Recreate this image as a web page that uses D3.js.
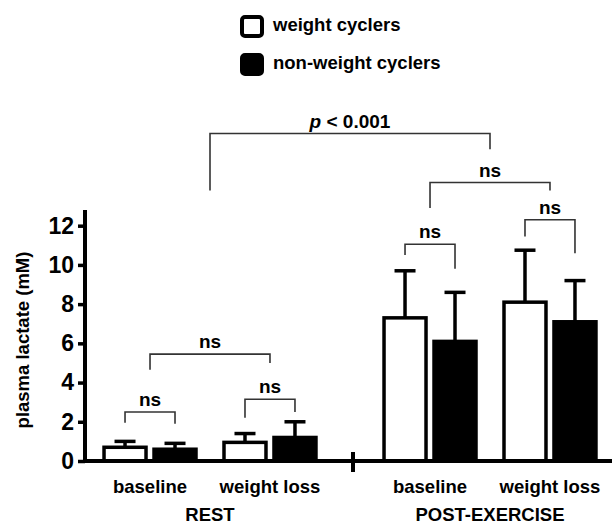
<!DOCTYPE html>
<html>
<head>
<meta charset="utf-8">
<script src="https://cdn.jsdelivr.net/npm/d3@7"></script>
<style>
  body { margin: 0; background: #fff; }
  text { font-family: "Liberation Sans", Arial, sans-serif; font-weight: bold; fill: #000; }
</style>
</head>
<body>
<div id="chart"></div>
<script>
// data (plasma lactate, mM)
const sections = ["REST", "POST-EXERCISE"];
const conditions = ["baseline", "weight loss"];
const series = ["weight cyclers", "non-weight cyclers"];
const seriesFill = ["#fff", "#000"];

// means, one array per series, ordered section x condition
const meanWC  = [0.7, 0.95, 7.3, 8.1];
const meanNWC = [0.6, 1.2, 6.1, 7.1];
// upper error bar ends
const errWC  = [1.0, 1.4, 9.7, 10.75];
const errNWC = [0.9, 2.0, 8.6, 9.2];

const yTicks = [0, 2, 4, 6, 8, 10, 12];

// significance brackets: endpoints are [section], [section, condition] or [section, condition, series]
const brackets = [
  { a: ["REST", "baseline", 0], b: ["REST", "baseline", 1], level: 2.5, legA: 1.95, legB: 1.9, label: "ns" },
  { a: ["REST", "weight loss", 0], b: ["REST", "weight loss", 1], level: 3.15, legA: 2.2, legB: 2.5, label: "ns" },
  { a: ["REST", "baseline"], b: ["REST", "weight loss"], level: 5.45, legA: 4.65, legB: 5.0, label: "ns" },
  { a: ["POST-EXERCISE", "baseline", 0], b: ["POST-EXERCISE", "baseline", 1], level: 11.05, legA: 10.5, legB: 9.8, label: "ns" },
  { a: ["POST-EXERCISE", "weight loss", 0], b: ["POST-EXERCISE", "weight loss", 1], level: 12.3, legA: 11.45, legB: 10.6, label: "ns" },
  { a: ["POST-EXERCISE", "baseline"], b: ["POST-EXERCISE", "weight loss"], level: 14.2, legA: 12.9, legB: 13.8, label: "ns" },
  { a: ["REST"], b: ["POST-EXERCISE"], level: 16.7, legA: 13.8, legB: 15.9, label: "p" }
];

const data = [];
sections.forEach((s, i) => conditions.forEach((c, j) => {
  const k = i * conditions.length + j;
  data.push({ section: s, condition: c, s: 0, value: meanWC[k], err: errWC[k] });
  data.push({ section: s, condition: c, s: 1, value: meanNWC[k], err: errNWC[k] });
}));

const width = 612, height = 526;
const marginLeft = 85;

const svg = d3.select("#chart").append("svg")
  .attr("width", width)
  .attr("height", height);

const y = d3.scaleLinear().domain([0, 12.8]).range([461, 210]);
const xSec = d3.scaleBand().domain(sections).range([70, 630]);
const xCond = d3.scaleBand().domain(conditions).range([0, xSec.bandwidth()]).paddingOuter(0.167);
const xSer = d3.scaleBand().domain(d3.range(series.length)).range([0, xCond.bandwidth()])
  .paddingInner(0.1).paddingOuter(0.25);

function xPos(p) {
  let x = xSec(p[0]);
  if (p.length === 1) return x + xSec.bandwidth() / 2;
  x += xCond(p[1]);
  if (p.length === 2) return x + xCond.bandwidth() / 2;
  return x + xSer(p[2]) + xSer.bandwidth() / 2;
}
const barX = d => xSec(d.section) + xCond(d.condition) + xSer(d.s);

// error bars (upper only)
const eb = svg.append("g").attr("stroke", "#000").attr("stroke-width", 3.5);
eb.selectAll("line.v").data(data).join("line")
  .attr("class", "v")
  .attr("x1", d => barX(d) + xSer.bandwidth() / 2)
  .attr("x2", d => barX(d) + xSer.bandwidth() / 2)
  .attr("y1", d => y(d.value))
  .attr("y2", d => y(d.err));
eb.selectAll("line.cap").data(data).join("line")
  .attr("class", "cap")
  .attr("x1", d => barX(d) + xSer.bandwidth() / 2 - 10.5)
  .attr("x2", d => barX(d) + xSer.bandwidth() / 2 + 10.5)
  .attr("y1", d => y(d.err))
  .attr("y2", d => y(d.err));

// bars
svg.append("g").selectAll("rect").data(data).join("rect")
  .attr("x", d => barX(d) + 1.5)
  .attr("y", d => y(d.value))
  .attr("width", xSer.bandwidth() - 3)
  .attr("height", d => y(0) - y(d.value))
  .attr("fill", d => seriesFill[d.s])
  .attr("stroke", "#000")
  .attr("stroke-width", 3.5);

// y axis
const yAxis = svg.append("g")
  .attr("transform", `translate(${marginLeft},0)`)
  .call(d3.axisLeft(y).tickValues(yTicks).tickSize(7).tickPadding(4).tickSizeOuter(0));
yAxis.select(".domain").remove();
yAxis.selectAll(".tick line").attr("stroke-width", 3.5);
yAxis.selectAll(".tick text").style("font-size", "23px").attr("fill", "#000")
  .style("font-family", "'Liberation Sans', Arial, sans-serif").style("font-weight", "bold");
svg.append("line")
  .attr("x1", marginLeft).attr("x2", marginLeft)
  .attr("y1", y(0) + 2).attr("y2", y(12.8))
  .attr("stroke", "#000").attr("stroke-width", 4);

// x axis line with break mark
svg.append("line")
  .attr("x1", marginLeft - 2).attr("x2", width)
  .attr("y1", y(0)).attr("y2", y(0))
  .attr("stroke", "#000").attr("stroke-width", 4);
const breakX = xSec(sections[1]) + 3;
svg.append("line")
  .attr("x1", breakX).attr("x2", breakX)
  .attr("y1", y(0) - 9).attr("y2", y(0) + 11)
  .attr("stroke", "#000").attr("stroke-width", 4);

// x labels
const lab = svg.append("g").style("font-size", "18.5px").attr("text-anchor", "middle");
sections.forEach(s => {
  conditions.forEach(c => {
    lab.append("text").attr("x", xPos([s, c])).attr("y", 493).text(c);
  });
  lab.append("text").attr("x", xPos([s])).attr("y", 521).text(s);
});

// y label
svg.append("text")
  .attr("transform", "rotate(-90)")
  .attr("x", -340)
  .attr("y", 29)
  .attr("text-anchor", "middle")
  .style("font-size", "18.5px")
  .text("plasma lactate (mM)");

// brackets
const br = svg.append("g");
brackets.forEach(b => {
  const xa = xPos(b.a), xb = xPos(b.b), yl = y(b.level);
  br.append("path")
    .attr("d", `M${xa},${y(b.legA)}V${yl}H${xb}V${y(b.legB)}`)
    .attr("fill", "none")
    .attr("stroke", "#333")
    .attr("stroke-width", 1.6);
  const t = br.append("text")
    .attr("x", (xa + xb) / 2)
    .attr("y", yl - 6)
    .attr("text-anchor", "middle")
    .style("font-size", "19px");
  if (b.label === "p") {
    t.append("tspan").style("font-style", "italic").text("p");
    t.append("tspan").text(" < 0.001");
  } else {
    t.text(b.label);
  }
});

// legend
const leg = svg.append("g").attr("transform", "translate(240,15)");
series.forEach((s, i) => {
  const g = leg.append("g").attr("transform", `translate(0,${i * 38})`);
  g.append("rect")
    .attr("x", 2).attr("y", 2).attr("width", 20).attr("height", 19).attr("rx", 3)
    .attr("fill", seriesFill[i]).attr("stroke", "#000").attr("stroke-width", 4);
  g.append("text").attr("x", 33).attr("y", 16).style("font-size", "18.5px").text(s);
});
</script>
</body>
</html>
